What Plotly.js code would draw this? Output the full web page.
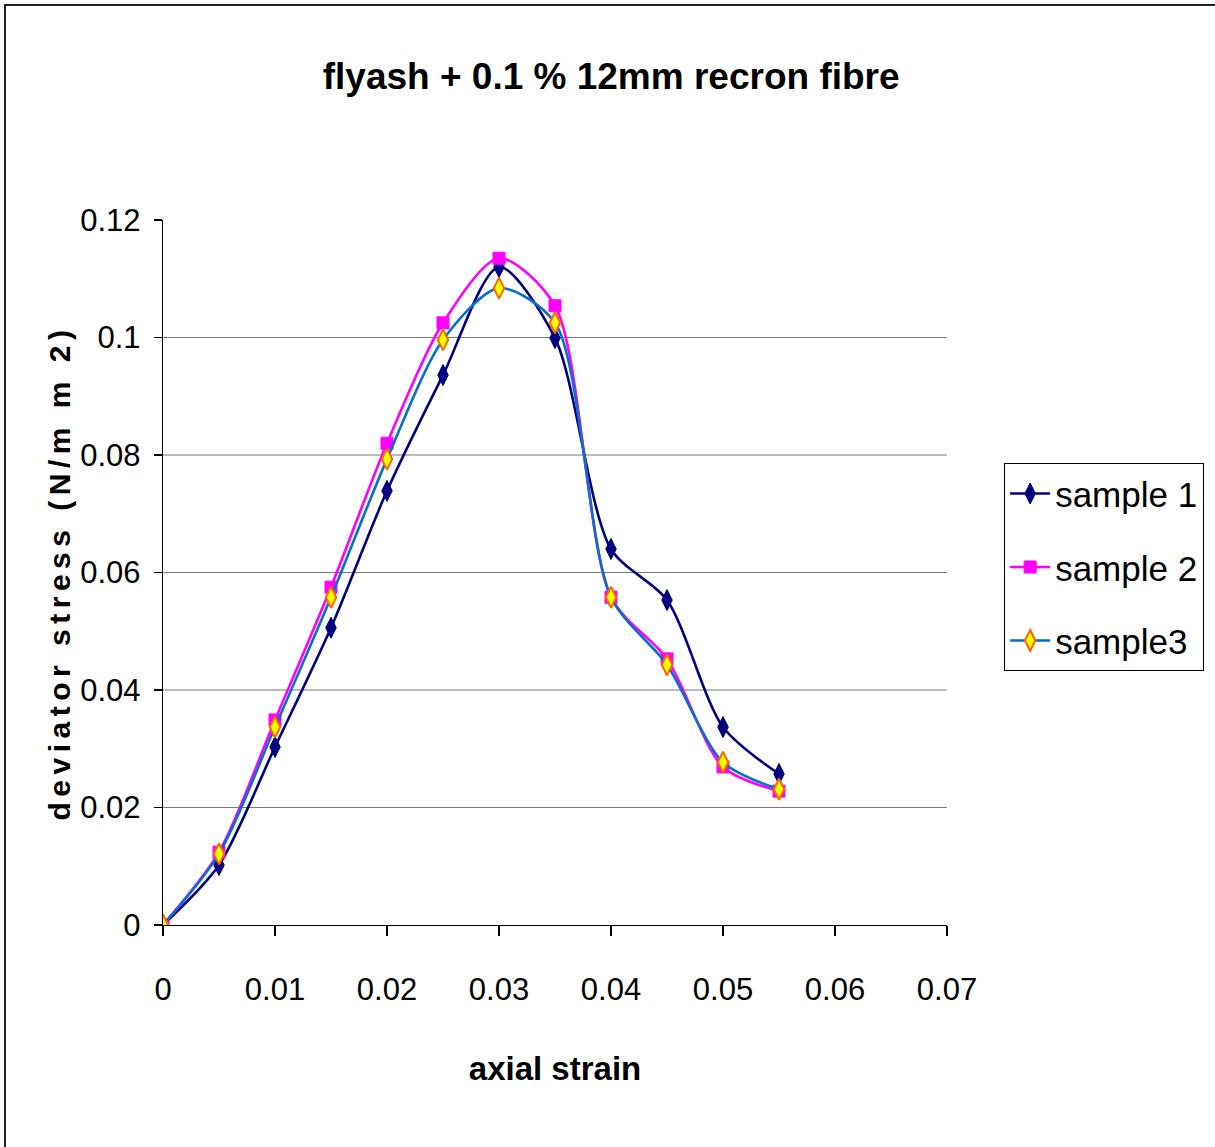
<!DOCTYPE html>
<html>
<head>
<meta charset="utf-8">
<script src="https://cdn.plot.ly/plotly-3.0.1.min.js"></script>
<style>
  html, body { margin: 0; padding: 0; background: #fff; overflow: hidden; }
  #chart { width: 1215px; height: 1147px; position: absolute; left: 0; top: 0; }
  #frame { position: absolute; left: 4px; top: 4px; width: 1400px; height: 1400px;
           border-left: 2px solid #222; border-top: 2px solid #222; pointer-events: none; }
  .g-ytitle text { letter-spacing: 5.5px; }
</style>
</head>
<body>
<div id="chart"></div>
<div id="frame"></div>
<script>
const strain = [0, 0.005, 0.01, 0.015, 0.02, 0.025, 0.03, 0.035, 0.04, 0.045, 0.05, 0.055];
const sample1 = [0, 0.0102, 0.0303, 0.0506, 0.0739, 0.0936, 0.112, 0.0999, 0.064, 0.0553, 0.0337, 0.0257];
const sample2 = [0, 0.0124, 0.0349, 0.0575, 0.082, 0.1025, 0.1135, 0.1054, 0.0558, 0.0453, 0.0269, 0.0228];
const sample3 = [0, 0.0121, 0.0337, 0.0558, 0.0793, 0.0996, 0.1084, 0.1025, 0.0558, 0.0443, 0.0277, 0.0231];
const seriesNames = ['sample 1', 'sample 2', 'sample3'];
const yTicks = [0, 0.02, 0.04, 0.06, 0.08, 0.1, 0.12];
const yTickText = ['0', '0.02', '0.04', '0.06', '0.08', '0.1', '0.12'];
const xTicks = [0, 0.01, 0.02, 0.03, 0.04, 0.05, 0.06, 0.07];
const xTickText = ['0', '0.01', '0.02', '0.03', '0.04', '0.05', '0.06', '0.07'];
const gridVals = [0.02, 0.04, 0.06, 0.08, 0.1];

const NARROW = '"Liberation Sans Narrow", "Arial Narrow", "Liberation Sans", Arial, sans-serif';
const ARIAL = '"Liberation Sans", Arial, sans-serif';

const traces = [
  {
    x: strain, y: sample1, name: seriesNames[0], type: 'scatter', mode: 'lines+markers',
    line: {color: '#000080', width: 2.6, shape: 'spline', smoothing: 0.8},
    marker: {symbol: 'diamond-tall', size: 15, color: '#000080', line: {color: '#000080', width: 1}},
    legendgroup: 'a'
  },
  {
    x: strain, y: sample2, name: seriesNames[1], type: 'scatter', mode: 'lines+markers',
    line: {color: '#FF00FF', width: 2.6, shape: 'spline', smoothing: 0.8},
    marker: {symbol: 'square', size: 12, color: '#FF00FF', line: {color: '#FF00FF', width: 1}},
    legendgroup: 'b'
  },
  {
    x: strain, y: sample3, name: seriesNames[2], type: 'scatter', mode: 'lines+markers',
    line: {color: '#0A6FC8', width: 2.6, shape: 'spline', smoothing: 0.8},
    marker: {symbol: 'diamond-tall', size: 15, color: '#FFFF00', line: {color: '#FF6600', width: 2}},
    legendgroup: 'c'
  }
];

const shapes = gridVals.map(v => ({
  type: 'line', xref: 'paper', x0: 0, x1: 1, yref: 'y', y0: v, y1: v,
  line: {color: '#7a7a7a', width: 1.2}, layer: 'below'
}));

const layout = {
  width: 1215, height: 1147,
  margin: {l: 163, r: 268, t: 220, b: 222},
  paper_bgcolor: '#ffffff', plot_bgcolor: '#ffffff',
  showlegend: true,
  title: {
    text: '<b>flyash + 0.1 % 12mm recron fibre</b>',
    font: {family: NARROW, size: 37, color: '#000'},
    x: 0.503, xanchor: 'center', xref: 'container',
    y: 0.934, yanchor: 'middle', yref: 'container'
  },
  xaxis: {
    range: [0, 0.07], tickvals: xTicks, ticktext: xTickText,
    showgrid: false, zeroline: false, automargin: false,
    showline: true, linecolor: '#000', linewidth: 1.2,
    ticks: 'outside', ticklen: 10, tickcolor: '#000', tickwidth: 1.2,
    ticklabelstandoff: 27,
    tickfont: {family: NARROW, size: 31, color: '#000'},
    title: {text: '<b>axial strain</b>', font: {family: NARROW, size: 33, color: '#000'}, standoff: 50}
  },
  yaxis: {
    range: [0, 0.12], tickvals: yTicks, ticktext: yTickText,
    showgrid: false, zeroline: false, automargin: false,
    showline: true, linecolor: '#000', linewidth: 1.2,
    ticks: 'outside', ticklen: 8, tickcolor: '#000', tickwidth: 1.2,
    ticklabelstandoff: 7,
    tickfont: {family: NARROW, size: 31, color: '#000'},
    title: {text: '<b>deviator stress (N/m m 2)</b>', font: {family: ARIAL, size: 30, color: '#000'}, standoff: 0}
  },
  legend: {
    x: 0.8263, xanchor: 'left', xref: 'container',
    y: 0.5963, yanchor: 'top', yref: 'container',
    bgcolor: '#fff', bordercolor: '#000', borderwidth: 1.2,
    font: {family: NARROW, size: 35, color: '#000'},
    tracegroupgap: 25, itemwidth: 40
  },
  shapes: shapes
};

Plotly.newPlot('chart', traces, layout, {displayModeBar: false, staticPlot: true});
</script>
</body>
</html>
